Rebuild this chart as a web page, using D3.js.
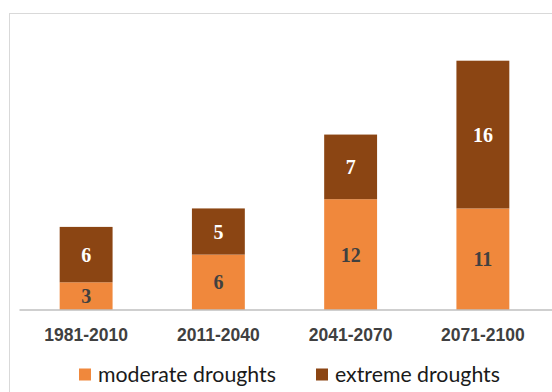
<!DOCTYPE html>
<html>
<head>
<meta charset="utf-8">
<script src="https://cdn.jsdelivr.net/npm/d3@7"></script>
<style>
  html, body { margin: 0; padding: 0; background: #fff; }
  svg { display: block; }
</style>
</head>
<body>
<svg id="chart" width="552" height="392"></svg>
<script>
// Drought counts per 30-year period
const periods = ["1981-2010", "2011-2040", "2041-2070", "2071-2100"];
const moderate = [3, 6, 12, 11];
const extreme = [6, 5, 7, 16];
const seriesNames = ["moderate droughts", "extreme droughts"];
const seriesColors = ["#F0883C", "#8B4513"];
const labelColors = ["#404040", "#ffffff"];

const svg = d3.select("#chart");
const W = 552, H = 392;

// Outer chart frame
svg.append("rect")
  .attr("x", 9.5).attr("y", 13.5)
  .attr("width", W + 10).attr("height", H + 10)
  .attr("fill", "#fff")
  .attr("stroke", "#d9d9d9").attr("stroke-width", 1);

const x = d3.scaleBand()
  .domain(periods)
  .range([20, 549])
  .paddingInner(0.6)
  .paddingOuter(0.3);

const y = d3.scaleLinear()
  .domain([0, 30])
  .range([310, 33]);

const rows = periods.map((p, i) => ({ period: p, moderate: moderate[i], extreme: extreme[i] }));
const stack = d3.stack().keys(["moderate", "extreme"]);
const layers = stack(rows);

const g = svg.append("g");

layers.forEach((layer, li) => {
  const lg = g.append("g");
  lg.selectAll("rect")
    .data(layer)
    .join("rect")
    .attr("x", d => x(d.data.period))
    .attr("width", x.bandwidth())
    .attr("y", d => y(d[1]))
    .attr("height", d => y(d[0]) - y(d[1]))
    .attr("fill", seriesColors[li]);

  lg.selectAll("text")
    .data(layer)
    .join("text")
    .attr("x", d => x(d.data.period) + x.bandwidth() / 2)
    .attr("y", d => (y(d[0]) + y(d[1])) / 2)
    .attr("dy", "0.35em")
    .attr("text-anchor", "middle")
    .attr("font-family", "'Liberation Serif', 'Times New Roman', serif")
    .attr("font-weight", "bold")
    .attr("font-size", 20)
    .attr("fill", labelColors[li])
    .text(d => d[1] - d[0]);
});

// Category axis
const axis = svg.append("g")
  .attr("transform", "translate(0,310)")
  .call(d3.axisBottom(x).tickSize(0).tickPadding(19));
axis.select(".domain").remove();
axis.selectAll("text")
  .attr("font-family", "'Liberation Sans', Arial, sans-serif")
  .attr("font-weight", "bold")
  .attr("font-size", 17.5)
  .attr("fill", "#404040");

svg.append("line")
  .attr("x1", 19.5).attr("x2", W)
  .attr("y1", 310).attr("y2", 310)
  .attr("stroke", "#bfbfbf").attr("stroke-width", 1.5);

// Legend
const legendX = [79, 316];
const legend = svg.append("g");
seriesNames.forEach((name, i) => {
  legend.append("rect")
    .attr("x", legendX[i]).attr("y", 368.5)
    .attr("width", 12).attr("height", 12)
    .attr("fill", seriesColors[i]);
  legend.append("text")
    .attr("x", legendX[i] + 19).attr("y", 381.5)
    .attr("font-family", "Lato, 'Open Sans', sans-serif")
    .attr("font-size", 21.3)
    .attr("fill", "#1a1a1a")
    .text(name);
});
</script>
</body>
</html>
